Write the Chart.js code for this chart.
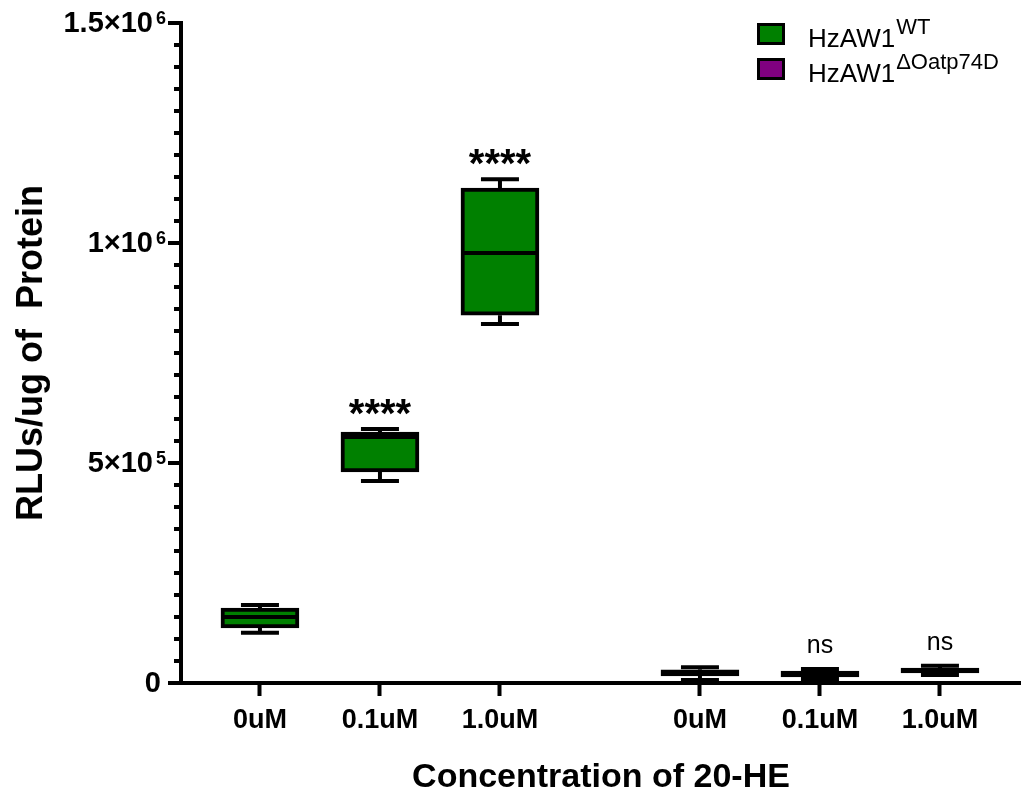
<!DOCTYPE html>
<html><head><meta charset="utf-8">
<script src="https://cdn.jsdelivr.net/npm/chart.js@4"></script>
<style>html,body{margin:0;padding:0;background:#fff}#wrap{width:1021px;height:791px}</style>
</head><body><div id="wrap"><canvas id="c" width="1021" height="791"></canvas></div>
<script>
// ---- data ----
const categories = ['0uM', '0.1uM', '1.0uM'];
const seriesNames = ['HzAW1', 'HzAW1'];
const seriesSup = ['WT', '\u0394Oatp74D'];
const wtMin    = [114000, 459000,  816000];
const wtQ1     = [125000, 480000,  836000];
const wtMedian = [150000, 559000,  977000];
const wtQ3     = [170000, 570000, 1125000];
const wtMax    = [177000, 577000, 1145000];
const koMin    = [ 7000,  9000, 18000];
const koQ1     = [16000, 14000, 23000];
const koMedian = [23000, 20000, 28000];
const koQ3     = [30000, 27000, 34000];
const koMax    = [36000, 32000, 39000];
const wtSig = ['', '****', '****'];
const koSig = ['', 'ns', 'ns'];
const yMajorValues = [0, 500000, 1000000, 1500000];
const yTickMantissa = ['0', '5\u00d710', '1\u00d710', '1.5\u00d710'];
const yTickExponent = ['', '5', '6', '6'];
const xTitle = 'Concentration of 20-HE';
const yTitle = 'RLUs/ug of  Protein';

// ---- style / layout ----
const FONT = "'Liberation Sans', Arial, sans-serif";
const colors = ['#008000', '#800080'];
const GROUP_GAP = 2 / 3;
function xPos(g, i) { return g * (categories.length + GROUP_GAP) + i; }

const stats = [
  {min: wtMin, q1: wtQ1, med: wtMedian, q3: wtQ3, max: wtMax, sig: wtSig, sigFont: 'bold 40px ' + FONT, sigGap: 2},
  {min: koMin, q1: koQ1, med: koMedian, q3: koQ3, max: koMax, sig: koSig, sigFont: '25px ' + FONT, sigGap: 16}
];
const tickPositions = [];
const tickLabels = [];
[0, 1].forEach(g => categories.forEach((c, i) => { tickPositions.push(xPos(g, i)); tickLabels.push(c); }));

const datasets = stats.map((s, g) => ({
  label: seriesNames[g] + seriesSup[g],
  data: categories.map((c, i) => ({x: xPos(g, i), y: [s.q1[i], s.q3[i]]})),
  backgroundColor: colors[g],
  borderColor: '#000',
  borderWidth: 4,
  borderSkipped: false,
  barThickness: 78,
  grouped: false
}));

const boxPlugin = {
  id: 'boxExtras',
  afterDatasetsDraw(chart) {
    const ctx = chart.ctx, y = chart.scales.y;
    ctx.save();
    ctx.strokeStyle = '#000';
    ctx.fillStyle = '#000';
    stats.forEach((s, d) => {
      const meta = chart.getDatasetMeta(d);
      meta.data.forEach((el, i) => {
        const cx = el.x, hw = el.width / 2;
        ctx.lineWidth = 4;
        ctx.beginPath();
        ctx.moveTo(cx - hw + 2, y.getPixelForValue(s.med[i]));
        ctx.lineTo(cx + hw - 2, y.getPixelForValue(s.med[i]));
        ctx.moveTo(cx, y.getPixelForValue(s.q3[i]));
        ctx.lineTo(cx, y.getPixelForValue(s.max[i]));
        ctx.moveTo(cx, y.getPixelForValue(s.q1[i]));
        ctx.lineTo(cx, y.getPixelForValue(s.min[i]));
        ctx.moveTo(cx - 19, y.getPixelForValue(s.max[i]));
        ctx.lineTo(cx + 19, y.getPixelForValue(s.max[i]));
        ctx.moveTo(cx - 19, y.getPixelForValue(s.min[i]));
        ctx.lineTo(cx + 19, y.getPixelForValue(s.min[i]));
        ctx.stroke();
        if (s.sig[i]) {
          ctx.font = s.sigFont;
          ctx.textAlign = 'center';
          ctx.textBaseline = 'alphabetic';
          ctx.fillText(s.sig[i], cx, y.getPixelForValue(s.max[i]) - s.sigGap);
        }
      });
    });
    ctx.restore();
  },
  afterDraw(chart) {
    const ctx = chart.ctx, y = chart.scales.y, left = chart.chartArea.left;
    ctx.save();
    ctx.strokeStyle = '#000';
    ctx.fillStyle = '#000';
    // y ticks (major/minor)
    y.ticks.forEach(t => {
      const py = y.getPixelForValue(t.value);
      const major = yMajorValues.includes(t.value);
      ctx.lineWidth = 4;
      ctx.beginPath();
      ctx.moveTo(left - (major ? 13 : 7), py);
      ctx.lineTo(left + 2, py);
      ctx.stroke();
    });
    // y tick labels with superscript
    yMajorValues.forEach((v, k) => {
      const py = y.getPixelForValue(v);
      let right = left - 15;
      if (yTickExponent[k]) {
        ctx.font = 'bold 18px ' + FONT;
        ctx.textAlign = 'right';
        ctx.textBaseline = 'alphabetic';
        ctx.fillText(yTickExponent[k], right, py + 1);
        right -= ctx.measureText(yTickExponent[k]).width + 3;
      } else {
        right -= 5;
      }
      ctx.font = 'bold 29px ' + FONT;
      ctx.textAlign = 'right';
      ctx.textBaseline = 'middle';
      ctx.fillText(yTickMantissa[k], right, py + 1);
    });
    // legend
    seriesNames.forEach((n, s) => {
      const top = 23 + s * 35;
      ctx.fillStyle = '#000';
      ctx.fillRect(757, top, 28, 22);
      ctx.fillStyle = colors[s];
      ctx.fillRect(760, top + 3, 22, 16);
      ctx.fillStyle = '#000';
      ctx.textAlign = 'left';
      ctx.textBaseline = 'alphabetic';
      ctx.font = '26px ' + FONT;
      ctx.fillText(n, 808, top + 24);
      const w = ctx.measureText(n).width;
      ctx.font = '22px ' + FONT;
      ctx.fillText(seriesSup[s], 808 + w + 1, top + 11);
    });
    ctx.restore();
  }
};

new Chart(document.getElementById('c'), {
  type: 'bar',
  data: {datasets},
  options: {
    responsive: false,
    animation: false,
    devicePixelRatio: 1,
    events: [],
    layout: {padding: {top: 23, left: 0, right: 0, bottom: 0}},
    plugins: {legend: {display: false}, tooltip: {enabled: false}},
    scales: {
      x: {
        type: 'linear',
        min: -0.658,
        max: 6.342,
        offset: false,
        afterBuildTicks(scale) { scale.ticks = tickPositions.map(v => ({value: v})); },
        afterFit(scale) { scale.height = 108; },
        ticks: {
          autoSkip: false, maxRotation: 0, padding: 8, color: '#000',
          font: {family: FONT, size: 27, weight: 'bold'},
          callback(v, i) { return tickLabels[i]; }
        },
        grid: {display: true, drawOnChartArea: false, drawTicks: true, tickLength: 13, tickWidth: 4, tickColor: '#000', offset: false},
        border: {display: true, color: '#000', width: 4},
        title: {display: true, text: xTitle, color: '#000', padding: {top: 0, bottom: 0},
          font: {family: FONT, size: 34, weight: 'bold', lineHeight: 0.8}}
      },
      y: {
        min: 0,
        max: 1500000,
        ticks: {display: false, stepSize: 50000},
        afterFit(scale) { scale.width = 181; },
        grid: {display: false},
        border: {display: true, color: '#000', width: 4},
        title: {display: true, text: yTitle, color: '#000', padding: {top: 10, bottom: 0},
          font: {family: FONT, size: 36, weight: 'bold', lineHeight: 1.2}}
      }
    }
  },
  plugins: [boxPlugin]
});
</script>
</body></html>
